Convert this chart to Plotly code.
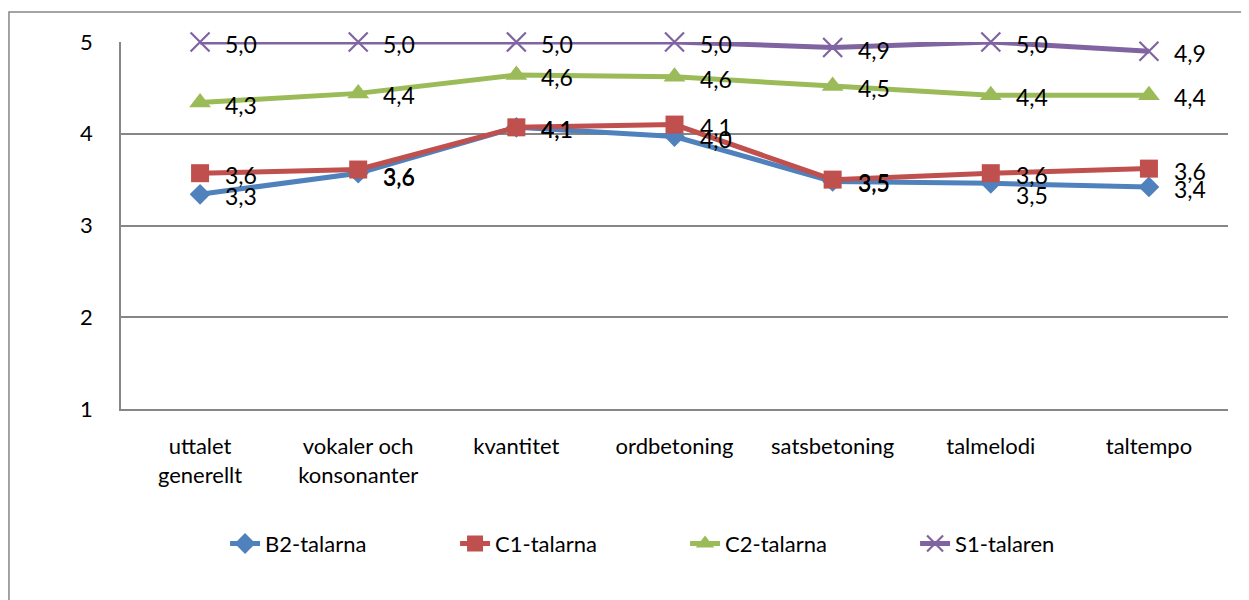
import plotly.graph_objects as go

categories = ["uttalet<br>generellt", "vokaler och<br>konsonanter", "kvantitet", "ordbetoning",
              "satsbetoning", "talmelodi", "taltempo"]
b2 = [3.34, 3.57, 4.07, 3.97, 3.48, 3.46, 3.42]
c1 = [3.57, 3.61, 4.07, 4.10, 3.50, 3.57, 3.62]
c2 = [4.34, 4.44, 4.64, 4.62, 4.52, 4.42, 4.42]
s1 = [5.00, 5.00, 5.00, 5.00, 4.94, 5.00, 4.90]
y_ticks = [1, 2, 3, 4, 5]

series = [
    ("B2-talarna", b2, "#4F81BD", "diamond", 16),
    ("C1-talarna", c1, "#C0504D", "square", 18),
    ("C2-talarna", c2, "#9BBB59", "triangle-up", 19),
    ("S1-talaren", s1, "#8064A2", "x-thin", 19),
]
# per-label vertical nudges (pixels, negative = down) to mimic the original's label placement
label_shift = {("B2-talarna", 5): -12, ("B2-talarna", 1): -4, ("C1-talarna", 1): -6}

FONT = "Lato"
fig = go.Figure()
for name, vals, color, sym, size in series:
    marker = dict(symbol=sym, size=size, color=color)
    if sym == "x-thin":
        marker["line"] = dict(color=color, width=2.2)
    fig.add_trace(go.Scatter(x=categories, y=vals, name=name, mode="lines+markers",
                             line=dict(color=color, width=5), marker=marker, cliponaxis=False))
    for i, v in enumerate(vals):
        fig.add_annotation(x=categories[i], y=v, text=f"{v:.1f}".replace(".", ","),
                           showarrow=False, xanchor="left", yanchor="middle",
                           xshift=23, yshift=label_shift.get((name, i), -2),
                           font=dict(family=FONT, size=23, color="black"))

fig.add_shape(type="rect", xref="paper", yref="paper", x0=-0.1012, x1=1.2, y0=-1, y1=1.0817,
              line=dict(color="#868686", width=1.5), fillcolor="rgba(0,0,0,0)", layer="below")

fig.update_layout(
    width=1241, height=592,
    margin=dict(l=113, r=21, t=34, b=191, autoexpand=False),
    paper_bgcolor="white", plot_bgcolor="white",
    font=dict(family=FONT, size=22, color="black"),
    showlegend=True,
    legend=dict(orientation="h", x=0.094, xanchor="left", y=-0.367, yanchor="middle",
                font=dict(family=FONT, size=22), entrywidth=185, entrywidthmode="pixels",
                tracegroupgap=0),
    xaxis=dict(range=[-0.5, len(categories) - 0.5], showgrid=False, showline=True,
               linecolor="#868686", linewidth=1.5,
               ticks="outside", ticklen=17, tickcolor="rgba(0,0,0,0)",
               tickfont=dict(family=FONT, size=22)),
    yaxis=dict(range=[1, 5], tickvals=y_ticks, showgrid=True, gridcolor="#868686", gridwidth=1.5,
               showline=True, linecolor="#868686", linewidth=1.5, zeroline=False,
               ticks="outside", ticklen=22, tickcolor="rgba(0,0,0,0)",
               tickfont=dict(family=FONT, size=22)),
)
fig.write_html("out.html")
